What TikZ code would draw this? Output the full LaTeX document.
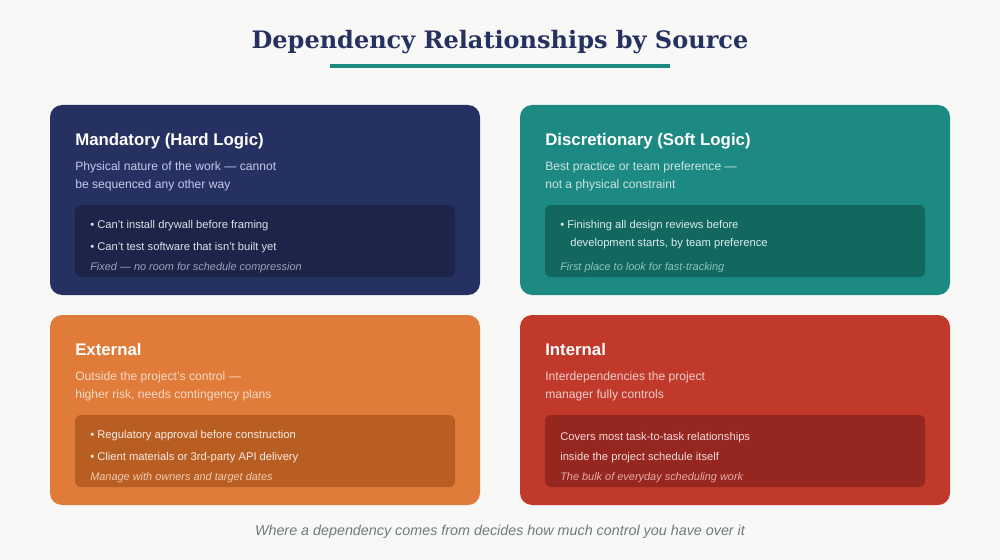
\documentclass[tikz,border=0pt]{standalone}
\usepackage{fontspec}
\setmainfont{Liberation Sans}
\newfontfamily\titlefont{DejaVu Serif}

\definecolor{pagebg}{HTML}{F8F8F6}
\definecolor{navy}{HTML}{253160}
\definecolor{navydark}{HTML}{1C2549}
\definecolor{teal}{HTML}{1C8A82}
\definecolor{tealdark}{HTML}{12675F}
\definecolor{orange}{HTML}{E07B39}
\definecolor{orangedark}{HTML}{B95E23}
\definecolor{brick}{HTML}{C0392B}
\definecolor{brickdark}{HTML}{952620}
\definecolor{footgray}{HTML}{6F7B7B}

\tikzset{
  card/.style={rounded corners=9pt},
  inner/.style={rounded corners=4.5pt},
  head/.style={anchor=base west,inner sep=0pt,text=white,font=\fontsize{12.6}{14}\selectfont\bfseries},
  sub/.style={anchor=base west,inner sep=0pt,font=\fontsize{9.1}{11}\selectfont},
  item/.style={anchor=base west,inner sep=0pt,font=\fontsize{8.4}{10}\selectfont},
  note/.style={anchor=base west,inner sep=0pt,font=\fontsize{8.2}{9}\selectfont\itshape},
}

\begin{document}
\begin{tikzpicture}[x=0.75pt,y=-0.75pt]
\fill[pagebg] (0,0) rectangle (1000,560);
\useasboundingbox (0,0) rectangle (1000,560);

% title
\node[anchor=base,inner sep=0pt,text=navy,font=\titlefont\fontsize{18}{22}\selectfont\bfseries] (title) at (500,49) {Dependency Relationships by Source};
\draw[teal,line width=2.3pt] (330,66) -- (670,66);

% mandatory
\fill[navy,card] (50,105) rectangle (480,295);
\fill[navydark,inner] (75,205) rectangle (455,277);
\node[head] (mandhead) at (75,145) {Mandatory (Hard Logic)};
\node[sub,text=navy!25!white!80!blue!60!white] (mandsub1) at (75,170) {Physical nature of the work --- cannot};
\node[sub,text=navy!25!white!80!blue!60!white] (mandsub2) at (75,188) {be sequenced any other way};
\node[item,text=white!85!navy] (manditem1) at (90,228) {• Can't install drywall before framing};
\node[item,text=white!85!navy] (manditem2) at (90,250) {• Can't test software that isn't built yet};
\node[note,text=white!55!navy] (mandnote) at (90,270) {Fixed --- no room for schedule compression};

% discretionary
\fill[teal,card] (520,105) rectangle (950,295);
\fill[tealdark,inner] (545,205) rectangle (925,277);
\node[head] (dischead) at (545,145) {Discretionary (Soft Logic)};
\node[sub,text=white!78!teal] (discsub1) at (545,170) {Best practice or team preference ---};
\node[sub,text=white!78!teal] (discsub2) at (545,188) {not a physical constraint};
\node[item,text=white!85!teal] (discitem1) at (560,228) {• Finishing all design reviews before};
\node[item,text=white!85!teal] (discitem2) at (570,246) {development starts, by team preference};
\node[note,text=white!50!teal] (discnote) at (560,270) {First place to look for fast-tracking};

% external
\fill[orange,card] (50,315) rectangle (480,505);
\fill[orangedark,inner] (75,415) rectangle (455,487);
\node[head] (exthead) at (75,355) {External};
\node[sub,text=white!72!orange] (extsub1) at (75,380) {Outside the project's control ---};
\node[sub,text=white!72!orange] (extsub2) at (75,398) {higher risk, needs contingency plans};
\node[item,text=white!85!orange] (extitem1) at (90,438) {• Regulatory approval before construction};
\node[item,text=white!85!orange] (extitem2) at (90,460) {• Client materials or 3rd-party API delivery};
\node[note,text=white!60!orange] (extnote) at (90,480) {Manage with owners and target dates};

% internal
\fill[brick,card] (520,315) rectangle (950,505);
\fill[brickdark,inner] (545,415) rectangle (925,487);
\node[head] (inthead) at (545,355) {Internal};
\node[sub,text=white!75!brick] (intsub1) at (545,380) {Interdependencies the project};
\node[sub,text=white!75!brick] (intsub2) at (545,398) {manager fully controls};
\node[item,text=white!82!brick] (intitem1) at (560,440) {Covers most task-to-task relationships};
\node[item,text=white!82!brick] (intitem2) at (560,460) {inside the project schedule itself};
\node[note,text=white!58!brick] (intnote) at (560,480) {The bulk of everyday scheduling work};

% footer
\node[anchor=base,inner sep=0pt,text=footgray,font=\fontsize{10.75}{12}\selectfont\itshape] (foot) at (500,535) {Where a dependency comes from decides how much control you have over it};
\end{tikzpicture}
\end{document}
